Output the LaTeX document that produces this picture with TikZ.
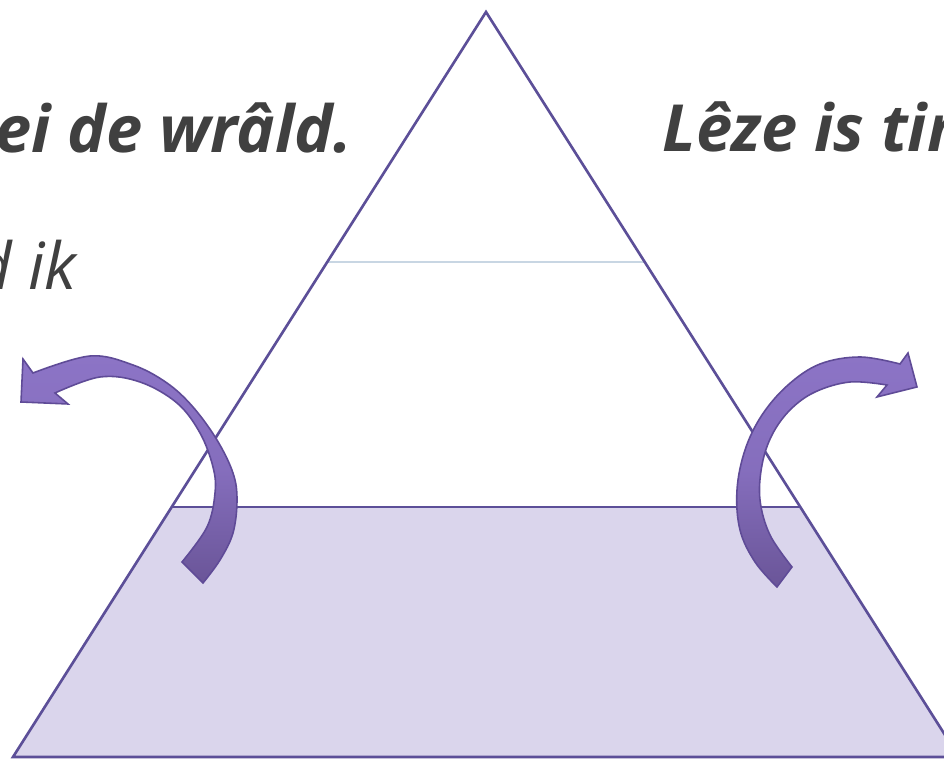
\documentclass[tikz,border=0pt]{standalone}
\usepackage{fontspec}
\setmainfont{Open Sans}
\definecolor{triline}{HTML}{5C4F98}
\definecolor{bandfill}{HTML}{DAD5EC}
\definecolor{sepline}{HTML}{C8D6E3}
\definecolor{arrlight}{HTML}{8C74C6}
\definecolor{arrdark}{HTML}{6A5598}
\definecolor{arredge}{HTML}{5F4B97}
\definecolor{txtgray}{HTML}{404040}
\tikzset{
  triedge/.style={draw=triline, line width=1.5pt, line join=miter},
  bandshape/.style={fill=bandfill},
  sepstyle/.style={draw=sepline, line width=0.6pt},
  bentarrow/.style={draw=arredge, line width=0.9pt, top color=arrlight, bottom color=arrdark, middle color=arrlight!80!arrdark, line join=miter},
  boldtxt/.style={inner sep=0pt, text=txtgray, font=\fontsize{37}{44}\selectfont\bfseries\itshape},
  lighttxt/.style={inner sep=0pt, text=txtgray, font=\fontsize{37}{44}\selectfont\itshape}
}
\begin{document}
\begin{tikzpicture}[x=0.02cm,y=-0.02cm]
\useasboundingbox (0,0) rectangle (944,759);
\clip (0,0) rectangle (944,759);
\fill[white] (0,0) rectangle (944,759);
% pyramid
\path[bandshape] (171,507) -- (800,507) -- (959,757) -- (13,757) -- cycle;
\draw[sepstyle] (327,262) -- (644,262);
\draw[triedge] (486,12) -- (13,757) -- (959,757) -- cycle;
\draw[triedge] (171,507) -- (800,507);
% texts
\node[boldtxt, anchor=base east] (lefttext) at (352,153) {ei de wrâld.};
\node[boldtxt, anchor=base west] (righttext) at (662,152) {Lêze is tin};
\node[lighttxt, anchor=base east] (midtext) at (77,290) {d ik};
% left curved arrow
\path[bentarrow] (23,359) -- plot[smooth,tension=0.6] coordinates {(33,373) (90,356) (133,365) (167,383) (193,407) (217,440) (233,473) (237,500) (233,533) (220,560) (203,583)}
  -- plot[smooth,tension=0.6] coordinates {(182,562) (207,527) (215,493) (213,467) (200,433) (177,403) (140,382) (100,377) (55,393)}
  -- (68,404) -- (21,402) -- cycle;
% right curved arrow
\path[bentarrow] (908,353) -- plot[smooth,tension=0.6] coordinates {(900,364) (860,357) (820,364) (788,385) (762,415) (745,450) (737,490) (740,530) (755,562) (777,587)}
  -- plot[smooth,tension=0.6] coordinates {(792,567) (770,535) (760,500) (762,465) (772,435) (790,410) (815,392) (850,382) (887,385)}
  -- (877,397) -- (917,387) -- cycle;
\end{tikzpicture}
\end{document}
